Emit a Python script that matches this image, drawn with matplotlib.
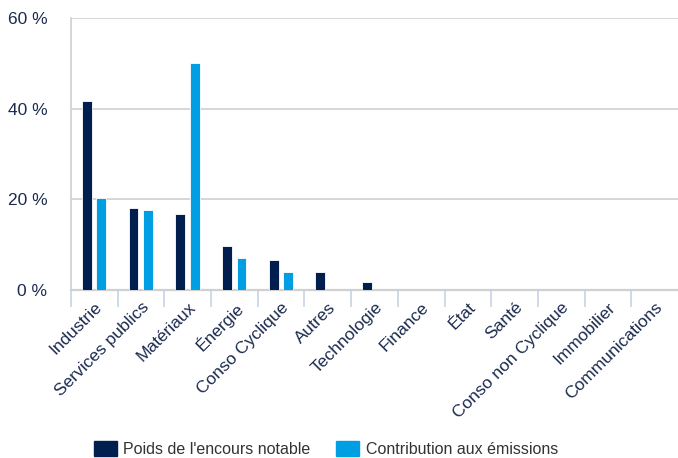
import matplotlib
matplotlib.use("Agg")
import matplotlib.pyplot as plt
import numpy as np
from matplotlib.patches import Patch

categories = ["Industrie", "Services publics", "Matériaux", "Énergie", "Conso Cyclique",
              "Autres", "Technologie", "Finance", "État", "Santé",
              "Conso non Cyclique", "Immobilier", "Communications"]
poids = [41.6, 18.0, 16.7, 9.8, 6.7, 4.0, 1.7, 0, 0, 0, 0, 0, 0]
contribution = [20.4, 17.7, 50.0, 7.0, 4.0, 0, 0, 0, 0, 0, 0, 0, 0]
yticks = [0, 20, 40, 60]
series_names = ["Poids de l'encours notable", "Contribution aux émissions"]

dark = "#001E4E"
light = "#009FE3"
text_col = "#1B2A4E"
grid_col = "#D0D0D0"

plt.rcParams['font.family'] = ['Liberation Sans', 'DejaVu Sans']

fig = plt.figure(figsize=(6.78, 4.58), dpi=100)
ax = fig.add_axes([71/678, 168/458, 1 - 71/678, (290-18)/458])

x = np.arange(len(categories))
w = 0.21
ax.bar(x - 0.16, poids, width=w, color=dark, edgecolor="white", linewidth=0.6, zorder=3)
ax.bar(x + 0.15, contribution, width=w, color=light, edgecolor="white", linewidth=0.6, zorder=3)

ax.set_xlim(-0.5, len(categories) - 0.5)
ax.set_ylim(0, 60)
ax.set_yticks(yticks)
ax.set_yticklabels([f"{v} %" for v in yticks], color=text_col, fontsize=12.5)
ax.tick_params(axis='y', length=0, pad=17)
ax.yaxis.grid(True, color=grid_col, linewidth=1.2, zorder=0)

ax.set_xticks(x)
ax.set_xticklabels(categories, rotation=45, ha='right', va='top', rotation_mode='anchor',
                   color=text_col, fontsize=12.5)
ax.tick_params(axis='x', which='major', length=0, pad=7)
ax.set_xticks(np.arange(len(categories)) - 0.5, minor=True)
ax.tick_params(axis='x', which='minor', length=12, width=1.2, color="#C8D3E6")

for s in ["top", "right"]:
    ax.spines[s].set_visible(False)
ax.spines["left"].set_color(grid_col)
ax.spines["left"].set_linewidth(1.2)
ax.spines["bottom"].set_color(grid_col)
ax.spines["bottom"].set_linewidth(1.6)

handles = [Patch(color=dark), Patch(color=light)]
fig.legend(handles, series_names, loc='center', bbox_to_anchor=(326/678, 1 - 449/458), ncol=2,
           frameon=False, fontsize=11.5, handlelength=1.45, handleheight=1.1,
           columnspacing=1.6, handletextpad=0.4, labelcolor="#333333")

fig.savefig("out.png", dpi=100)
